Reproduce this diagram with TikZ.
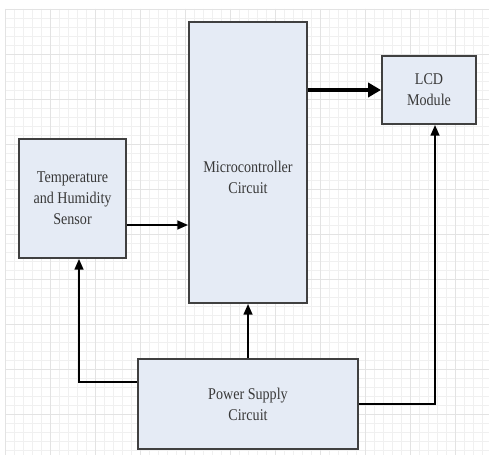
\documentclass[tikz,border=0pt]{standalone}
\usepackage{fontspec}
\setmainfont[FakeStretch=0.86]{Liberation Serif}
\usepackage{tikz}
\usetikzlibrary{positioning,arrows.meta}

\begin{document}
\begin{tikzpicture}[x=0.03cm, y=-0.03cm,
    block/.style={draw=black!75, line width=1.7pt, fill={rgb,255:red,229;green,235;blue,245}},
    label/.style={font=\fontsize{14}{18}\selectfont, text=black!78, align=center},
    arr/.style={line width=1.4pt, -{Triangle[length=9pt,width=7.5pt]}},
    busarr/.style={line width=3.2pt, -{Triangle[length=11pt,width=12pt]}},
    minorline/.style={gray!12, line width=0.4pt},
    majorline/.style={gray!22, line width=0.5pt}]
  \useasboundingbox (0,0) rectangle (489,455);
  \fill[white] (0,0) rectangle (489,455);
  % background grid
  \foreach \gx in {5,14,...,489}
    \draw[minorline] (\gx,9) -- (\gx,455);
  \foreach \gy in {9,18,...,455}
    \draw[minorline] (5,\gy) -- (489,\gy);
  \foreach \gx in {5,50,...,489}
    \draw[majorline] (\gx,9) -- (\gx,455);
  \foreach \gy in {9,54,...,455}
    \draw[majorline] (5,\gy) -- (489,\gy);
  % blocks
  \node[block, minimum width=118*0.03cm, minimum height=281*0.03cm] (micro) at (248,162.5) {};
  \node[label] (microtxt) at (248,177) {Microcontroller\\Circuit};
  \node[block, label, minimum width=94*0.03cm, minimum height=68*0.03cm] (lcd) at (429,90) {LCD\\Module};
  \node[block, label, minimum width=107*0.03cm, minimum height=119*0.03cm] (sensor) at (72.5,198.5) {Temperature\\and Humidity\\Sensor};
  \node[block, label, minimum width=220*0.03cm, minimum height=90*0.03cm] (power) at (248,404) {Power Supply\\Circuit};
  % connections
  \draw[arr] (sensor.east |- 0,225) -- (micro.west |- 0,225);
  \draw[busarr] (micro.east |- lcd.west) -- (lcd.west);
  \draw[arr] (power.north) -- (micro.south);
  \draw[arr] (power.west |- 0,382) -| (sensor.south -| 79,0);
  \draw[arr] (power.east |- 0,404) -| (lcd.south -| 435,0);
\end{tikzpicture}
\end{document}
